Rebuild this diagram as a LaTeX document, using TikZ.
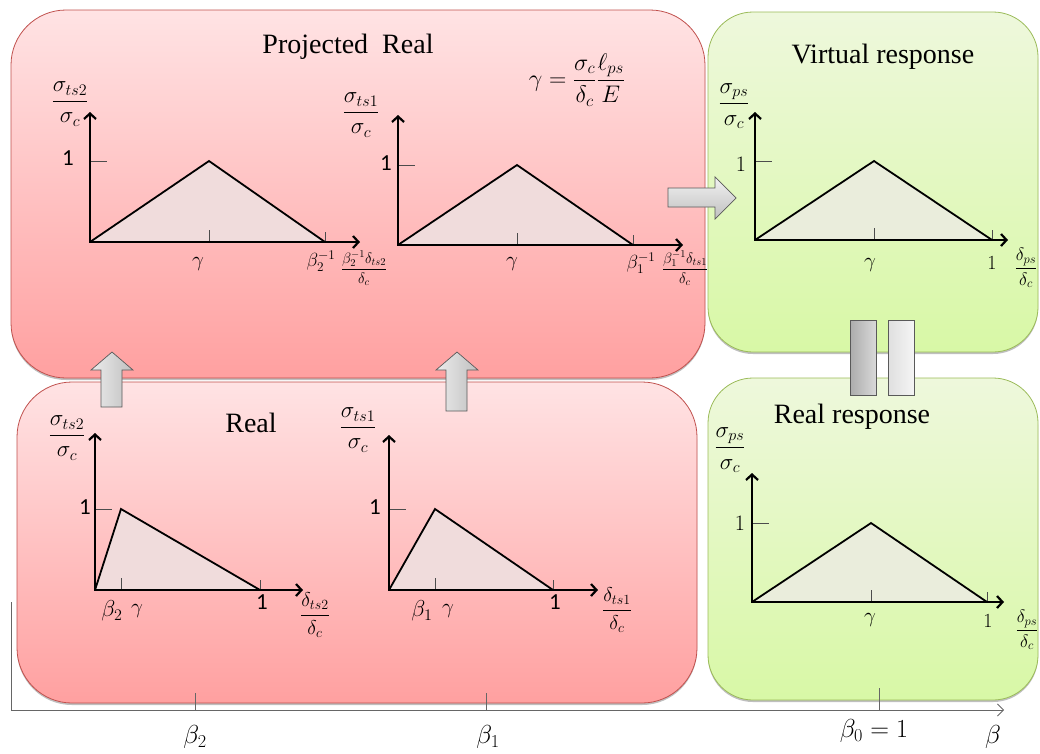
\RequirePackage{fix-cm}
\documentclass[tikz,border=0pt]{standalone}
\usepackage{amsmath}
\usepackage{fontspec}
\setmainfont{Liberation Serif}
\newfontfamily\calib{Carlito}
\usetikzlibrary{arrows.meta,shadows}
\definecolor{redtop}{HTML}{FFE3E4}
\definecolor{redbot}{HTML}{FFA0A0}
\definecolor{redline}{HTML}{C0504D}
\definecolor{greentop}{HTML}{EEF8DC}
\definecolor{greenbot}{HTML}{D8F8A6}
\definecolor{greenline}{HTML}{9BBB59}
\definecolor{trired}{HTML}{F0DCDC}
\definecolor{trigreen}{HTML}{EAEDDC}
\newcommand{\tplot}[8]{%
 \fill[#8] (#1,#2) -- (#5,#4) -- (#6,#2) -- cycle;
 \draw[tri] (#1,#2) -- (#5,#4) -- (#6,#2);
 \draw[tk] (#1,#4) -- ++(17,0);
 \draw[tk] (#5,#2) -- ++(0,-12);
 \draw[tk] (#6,#2) -- ++(0,-10);
 \draw[axis] (#1,#3) -- (#1,#2) -- (#7,#2);
}
\begin{document}
\begin{tikzpicture}[x=1pt,y=-1pt,
  boxshadow/.style={drop shadow={shadow xshift=0pt, shadow yshift=-2pt, opacity=0.25, fill=black}},
  redbox/.style={draw=redline, line width=0.8pt, rounded corners=55pt, top color=redtop, bottom color=redbot, inner sep=0pt, boxshadow},
  greenbox/.style={draw=greenline, line width=0.8pt, rounded corners=45pt, top color=greentop, bottom color=greenbot, inner sep=0pt, boxshadow},
  axis/.style={line width=2.2pt, line join=miter, {Straight Barb[length=5.5pt,width=12pt]}-{Straight Barb[length=5.5pt,width=12pt]}},
  tri/.style={line width=1.8pt, line join=miter},
  tk/.style={line width=0.8pt, draw=black!70},
  ttl/.style={inner sep=0pt, font=\fontsize{28}{33}\selectfont},
  ylab/.style={inner sep=0pt, font=\fontsize{23}{27}\selectfont},
  tinylab/.style={inner sep=0pt, font=\fontsize{15}{18}\selectfont},
  gl/.style={inner sep=0pt, font=\fontsize{21}{25}\selectfont},
  onesf/.style={inner sep=0pt, font=\calib\fontsize{23}{27}\selectfont},
  onemath/.style={inner sep=0pt, font=\fontsize{22}{26}\selectfont},
  barrow/.style={draw=black!65, line width=0.7pt},
  betalab/.style={inner sep=0pt, font=\fontsize{26}{30}\selectfont}
]
\useasboundingbox (0,0) rectangle (1040,753);

% boxes
\node[redbox, minimum width=694pt, minimum height=368pt] (proj) at (358,194) {};
\node[redbox, minimum width=680pt, minimum height=321pt] (real) at (357,542.5) {};
\node[greenbox, minimum width=330pt, minimum height=340pt] (virt) at (873,182) {};
\node[greenbox, minimum width=330pt, minimum height=322pt] (rresp) at (873,539) {};

% titles
\node[ttl] (tproj) at (348,47) {Projected\ \ Real};
\node[ttl] (tvirt) at (883,57) {Virtual response};
\node[ttl] (treal) at (251,423) {Real};
\node[ttl] (trresp) at (852,417) {Real response};
\node[inner sep=0pt, font=\fontsize{24}{28}\selectfont] (formula) at (577,80)
  {$\gamma=\dfrac{\sigma_c}{\delta_c}\dfrac{\ell_{ps}}{E}$};

% plot A
\tplot{90}{242}{112}{161}{209}{325}{360}{trired}
\node[ylab] (ya) at (70,104) {$\dfrac{\sigma_{ts2}}{\sigma_c}$};
\node[onesf] (onea) at (68,158) {1};
\node[gl] (ga) at (198,264) {$\gamma$};
\node[inner sep=0pt, font=\fontsize{19}{22}\selectfont] (ba) at (321,261) {$\beta_2^{-1}$};
\node[tinylab] (xa) at (364,268) {$\dfrac{\beta_2^{-1}\delta_{ts2}}{\delta_c}$};

% plot B
\tplot{398}{245}{115}{165}{517}{633}{683}{trired}
\node[ylab] (yb) at (361,115) {$\dfrac{\sigma_{ts1}}{\sigma_c}$};
\node[onesf] (oneb) at (386,163) {1};
\node[gl] (gb) at (512,264) {$\gamma$};
\node[inner sep=0pt, font=\fontsize{19}{22}\selectfont] (bb) at (641,263) {$\beta_1^{-1}$};
\node[tinylab] (xb) at (685,268) {$\dfrac{\beta_1^{-1}\delta_{ts1}}{\delta_c}$};

% plot C
\tplot{755}{240}{112}{161}{874}{992}{1008}{trigreen}
\node[ylab] (yc) at (734,106) {$\dfrac{\sigma_{ps}}{\sigma_c}$};
\node[onemath] (onec) at (741,164) {$1$};
\node[gl] (gc) at (870,265) {$\gamma$};
\node[inner sep=0pt, font=\fontsize{20}{24}\selectfont] (endc) at (992,263) {$1$};
\node[inner sep=0pt, font=\fontsize{18}{21}\selectfont] (xc) at (1026,268) {$\dfrac{\delta_{ps}}{\delta_c}$};

% plot D
\tplot{95}{590}{433}{509}{121}{260}{303}{trired}
\node[ylab] (yd) at (67,438) {$\dfrac{\sigma_{ts2}}{\sigma_c}$};
\node[onesf] (oned) at (85,507) {1};
\node[inner sep=0pt, font=\fontsize{23}{27}\selectfont] (bd) at (112,611) {$\beta_2$};
\node[gl] (gd) at (137,611) {$\gamma$};
\node[onesf] (endd) at (262,602) {1};
\node[inner sep=0pt, font=\fontsize{20}{24}\selectfont] (xd) at (315,615) {$\dfrac{\delta_{ts2}}{\delta_c}$};

% plot E
\tplot{389}{590}{435}{509}{435}{553}{598}{trired}
\node[ylab] (ye) at (358,430) {$\dfrac{\sigma_{ts1}}{\sigma_c}$};
\node[onesf] (onee) at (375,507) {1};
\node[inner sep=0pt, font=\fontsize{23}{27}\selectfont] (be) at (422,611) {$\beta_1$};
\node[gl] (ge) at (448,611) {$\gamma$};
\node[onesf] (ende) at (555,602) {1};
\node[inner sep=0pt, font=\fontsize{20}{24}\selectfont] (xe) at (617,610) {$\dfrac{\delta_{ts1}}{\delta_c}$};

% plot F
\tplot{752}{602}{473}{523}{871}{987}{1004}{trigreen}
\node[ylab] (yf) at (730,450) {$\dfrac{\sigma_{ps}}{\sigma_c}$};
\node[onemath] (onef) at (740,523) {$1$};
\node[gl] (gf) at (870,620) {$\gamma$};
\node[inner sep=0pt, font=\fontsize{20}{24}\selectfont] (endf) at (988,621) {$1$};
\node[inner sep=0pt, font=\fontsize{18}{21}\selectfont] (xf) at (1027,630) {$\dfrac{\delta_{ps}}{\delta_c}$};

% block arrows
\draw[barrow, left color=gray!15, right color=gray!50]
  (101,407) -- (101,370) -- (91,370) -- (112,352) -- (133,370) -- (122,370) -- (122,407) -- cycle;
\draw[barrow, left color=gray!15, right color=gray!50]
  (446,411) -- (446,370) -- (436,370) -- (457,352) -- (478,370) -- (467,370) -- (467,411) -- cycle;
\draw[barrow, top color=gray!10, bottom color=gray!50]
  (668,188) -- (715,188) -- (715,177) -- (736,198) -- (715,219) -- (715,207) -- (668,207) -- cycle;
\draw[barrow, left color=gray!65, right color=gray!30] (850,320) rectangle (876,395);
\draw[barrow, left color=gray!25, right color=gray!8] (888,320) rectangle (914,395);

% beta axis
\coordinate (bstart) at (11,602);
\coordinate (borig) at (11,710);
\coordinate (bend) at (1004,710);
\draw[black!60, line width=1pt, -{Straight Barb[length=6pt,width=12pt,line width=0.8pt]}] (bstart) -- (borig) -- (bend);
\draw[black!60, line width=1pt] (195,710) -- (195,693);
\draw[black!60, line width=1pt] (486,710) -- (486,693);
\draw[black!60, line width=1pt] (879,710) -- (879,688);
\node[betalab] (lb2) at (195,737) {$\beta_2$};
\node[betalab] (lb1) at (488,737) {$\beta_1$};
\node[betalab] (lb0) at (874,731) {$\beta_0=1$};
\node[betalab] (lb) at (993,737) {$\beta$};
\end{tikzpicture}
\end{document}
